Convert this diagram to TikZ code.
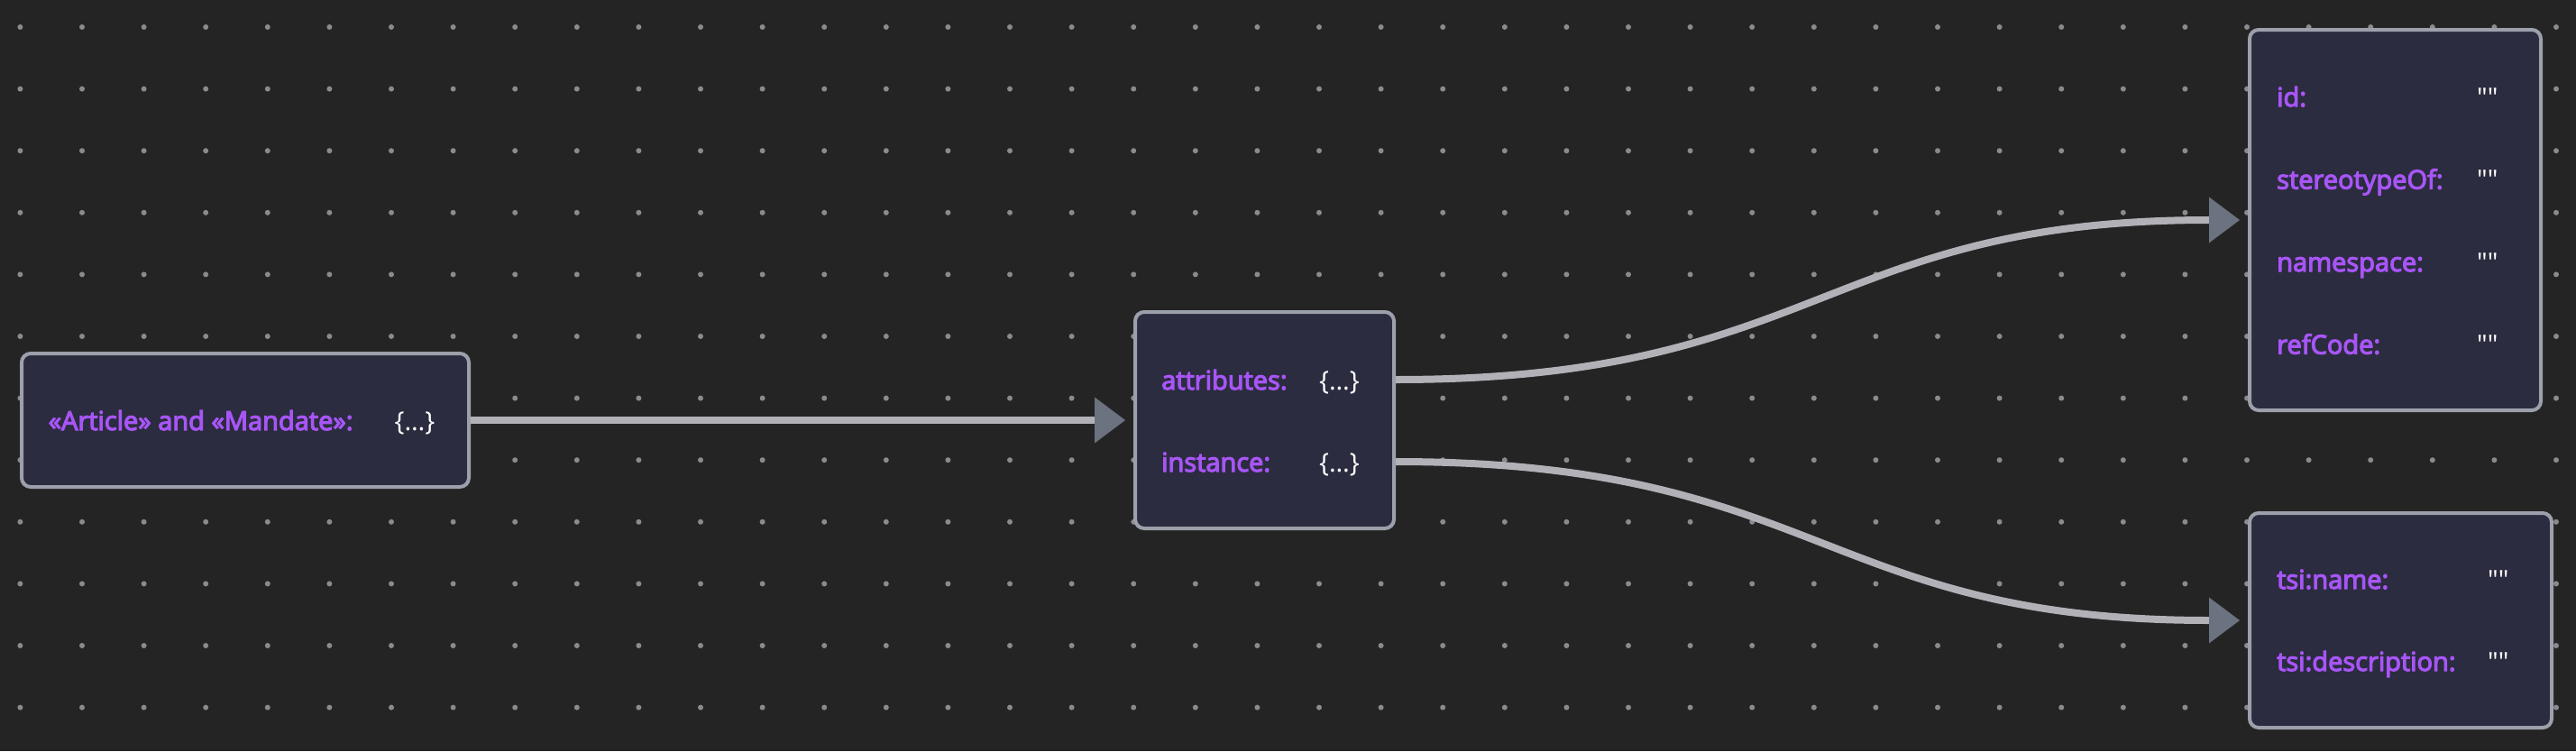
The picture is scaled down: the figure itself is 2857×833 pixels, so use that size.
\documentclass[tikz,border=0pt]{standalone}
\usepackage{fontspec}
\setmainfont{Open Sans}
\newfontfamily\keyfont{Open Sans}[FakeBold=4]
\newfontfamily\valfont{Open Sans}
\usetikzlibrary{arrows.meta}
\definecolor{canvas}{HTML}{242424}
\definecolor{griddot}{HTML}{8A8A8F}
\definecolor{boxfill}{HTML}{2B2C3F}
\definecolor{boxline}{HTML}{9CA0AB}
\definecolor{keyviolet}{HTML}{A855F7}
\definecolor{edgegrey}{HTML}{B1B1B7}
\definecolor{tipgrey}{HTML}{6B7280}
\tikzset{
  card/.style={draw=boxline, fill=boxfill, line width=4pt, rounded corners=10pt, inner sep=0pt},
  key/.style={anchor=base west, inner sep=0pt, text height=22pt, text depth=0pt, text=keyviolet, font=\keyfont\fontsize{29}{35}\selectfont},
  val/.style={key, text=white, font=\valfont\fontsize{29}{35}\selectfont},
  link/.style={draw=edgegrey, line width=8pt, -{Triangle[length=34pt,width=51pt,line width=0pt,color=tipgrey]}, shorten >=9pt}
}

\begin{document}
\begin{tikzpicture}[x=1pt,y=-1pt]
\fill[canvas] (0,0) rectangle (2857,833);
% dotted background
\foreach \i in {0,...,41}
  \foreach \j in {0,...,11}
    \fill[griddot] (22.4+68.6*\i, 30+68.6*\j) circle (3pt);

\node[card, minimum width=496pt, minimum height=148pt] (art) at (272,466) {};
\node[card, minimum width=287pt, minimum height=240pt] (mid) at (1402.5,466) {};
\node[card, minimum width=323pt, minimum height=422pt] (ids) at (2656.5,244) {};
\node[card, minimum width=335pt, minimum height=238pt] (tsi) at (2662.5,688) {};

\node[key] (artKey) at (53.5,477) {«Article» and «Mandate»:};
\node[val] (artVal) at (437.5,477) {\{…\}};

\node[key] (attrKey) at (1288,432) {attributes:};
\node[val] (attrVal) at (1463,432) {\{…\}};
\node[key] (instKey) at (1288,523) {instance:};
\node[val] (instVal) at (1463,523) {\{…\}};

\node[key] (idKey) at (2525,118) {id:};
\node[val] (idVal) at (2747,118) {""};
\node[key] (stereoKey) at (2525,209.5) {stereotypeOf:};
\node[val] (stereoVal) at (2747,209.5) {""};
\node[key] (nsKey) at (2525,301) {namespace:};
\node[val] (nsVal) at (2747,301) {""};
\node[key] (refKey) at (2525,392.5) {refCode:};
\node[val] (refVal) at (2747,392.5) {""};

\node[key] (nameKey) at (2525,653) {tsi:name:};
\node[val] (nameVal) at (2759,653) {""};
\node[key] (descKey) at (2525,744) {tsi:description:};
\node[val] (descVal) at (2759,744) {""};

% edges
\draw[link] (art.east) -- (mid.west);
\draw[link] (mid.east |- attrKey) to[out=0,in=180,looseness=1.25] (ids.west);
\draw[link] (mid.east |- instKey) to[out=0,in=180,looseness=1.25] (tsi.west);
\end{tikzpicture}
\end{document}
